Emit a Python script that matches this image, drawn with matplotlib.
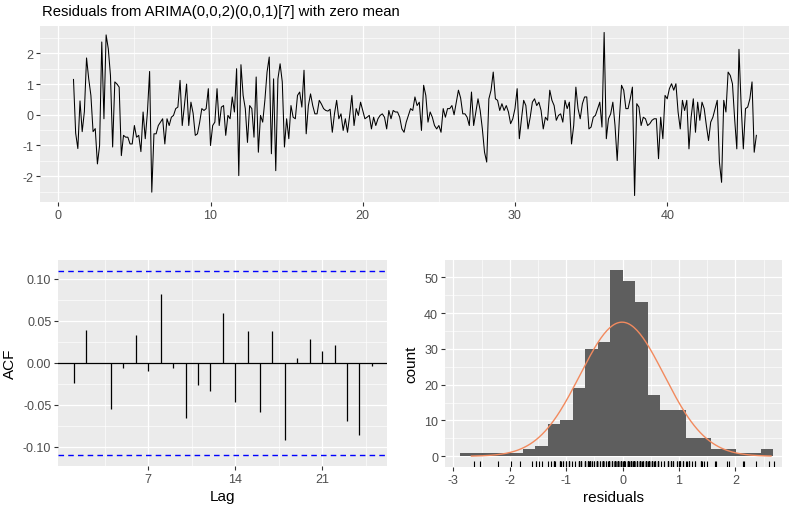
"""Residual diagnostics chart (time plot, ACF, histogram) in a ggplot-like style."""

import matplotlib

matplotlib.use("Agg")
import matplotlib.pyplot as plt
import numpy as np
from matplotlib.ticker import FixedLocator

plt.rcParams["font.family"] = ["Liberation Sans", "DejaVu Sans"]
plt.rcParams["axes.unicode_minus"] = False

# residual series, daily values with weekly seasonality
residuals = [
    1.15, -0.6, -1.1, 0.45, -0.55, 0.1, 1.85, 1.17, 0.63, -0.55,
    -0.45, -1.6, -1.0, 2.37, -0.13, 2.6, 2.15, 1.28, -1.05, 1.07,
    1.0, 0.9, -1.33, -0.67, -0.73, -0.73, -0.95, -0.95, -0.35, -0.73,
    -0.67, -1.2, 0.09, -0.78, 0.09, 1.41, -2.52, -0.62, -0.62, -0.35,
    -0.24, -0.13, -0.95, -0.13, -0.35, -0.08, -0.02, 0.2, 0.25, 1.12,
    -0.35, 0.3, 1.0, -0.35, 0.41, 0.05, -0.67, -0.62, -0.25, 0.2,
    0.14, 0.2, 0.85, -1.0, -0.35, -0.24, 0.85, -0.35, 0.25, 0.3,
    -0.67, -0.02, -0.13, 0.58, 0.09, 1.5, -1.98, 1.63, 0.63, 0.2,
    -0.9, 0.3, 0.2, -0.73, 1.23, -1.22, -0.02, -0.24, 0.47, 1.39,
    1.88, -1.27, 1.17, -1.82, 1.17, 1.66, 1.07, -1.05, -0.13, -0.78,
    0.3, -0.08, -0.13, 0.63, 0.74, 0.25, 1.45, -0.62, 0.3, 0.68,
    0.3, 0.03, 0.03, 0.47, 0.35, 0.2, 0.14, 0.12, 0.18, -0.57,
    0.03, 0.47, -0.13, 0.03, -0.51, -0.13, -0.57, -0.02, 0.63, -0.35,
    0.2, -0.02, 0.41, 0.14, -0.13, -0.08, -0.02, -0.46, -0.08, -0.35,
    -0.13, -0.02, 0.03, -0.08, -0.46, 0.14, -0.13, 0.14, 0.09, 0.09,
    -0.08, -0.46, -0.57, -0.24, -0.02, 0.2, 0.14, 0.58, 0.3, 0.41,
    -0.51, 0.96, 0.63, -0.24, 0.09, -0.08, -0.35, -0.46, -0.35, -0.57,
    0.2, -0.08, 0.2, 0.2, 0.3, 0.0, 0.41, 0.8, 0.55, 0.03,
    0.03, -0.08, -0.35, 0.74, -0.35, 0.09, 0.52, 0.14, -0.46, -1.22,
    -1.54, 0.52, 0.8, 1.39, 0.52, 0.47, 0.14, 0.36, 0.14, 0.3,
    0.09, -0.29, -0.13, 0.2, 0.85, -0.78, -0.13, 0.47, 0.3, -0.46,
    -0.08, 0.41, 0.52, 0.3, 0.41, 0.14, -0.46, -0.08, -0.18, 0.8,
    0.47, 0.3, -0.18, -0.02, 0.03, -0.24, 0.47, 0.2, 0.41, -0.95,
    -0.35, 0.9, 0.2, -0.13, 0.36, 0.58, 0.58, -0.46, -0.4, -0.08,
    -0.02, 0.2, 0.41, -0.4, 2.68, -0.78, -0.13, 0.03, 0.41, -0.35,
    -1.49, -0.13, 0.96, 0.8, 0.2, 0.2, 0.52, 0.9, -2.63, 0.36,
    0.25, -0.35, -0.08, -0.13, -0.35, -0.29, -0.18, -0.13, -0.13, -1.43,
    -0.08, -0.78, 0.63, 0.52, 0.85, 1.01, 0.8, 1.01, 0.09, -0.46,
    0.47, 0.14, 0.47, -1.11, -0.08, 0.52, -0.57, 0.41, -0.18, 0.41,
    0.2, -0.35, -0.84, -0.24, -0.08, 0.2, 0.47, -1.54, -2.2, 0.47,
    0.09, 1.39, 1.28, 1.01, -0.13, -1.11, 2.13, 0.3, -1.11, 0.2,
    0.25, 0.52, 1.07, -1.22, -0.67,
]
start_time = 1
frequency = 7

# autocorrelations of the residuals
acf_lags = list(range(1, 26))
acf_values = [
    -0.024, 0.039, 0.000, -0.055, -0.006, 0.033, -0.009, 0.082, -0.006, -0.066,
    -0.026, -0.033, 0.060, -0.047, 0.038, -0.058, 0.038, -0.092, 0.006, 0.028,
    0.014, 0.021, -0.069, -0.086, -0.004,
]
acf_bound = 0.110

# histogram of residuals
hist_left_edge = -2.881
hist_bin_width = 0.222
hist_counts = [1, 1, 1, 1, 1, 2, 3, 9, 10, 19, 30, 32, 52, 49, 43, 17, 13, 13, 5, 5, 2, 2, 1, 1, 2]
curve_mean = -0.01
curve_sd = 0.745
curve_from, curve_to = -2.68, 2.63

FIG_W, FIG_H = 790, 510
PANEL_BG = "#EBEBEB"


def px_axes(fig, left, top, right, bottom):
    return fig.add_axes([left / FIG_W, 1 - bottom / FIG_H, (right - left) / FIG_W, (bottom - top) / FIG_H])


def style_panel(ax, xmajor, xminor, ymajor, yminor):
    ax.set_facecolor(PANEL_BG)
    for spine in ax.spines.values():
        spine.set_visible(False)
    ax.xaxis.set_major_locator(FixedLocator(xmajor))
    ax.xaxis.set_minor_locator(FixedLocator(xminor))
    ax.yaxis.set_major_locator(FixedLocator(ymajor))
    ax.yaxis.set_minor_locator(FixedLocator(yminor))
    ax.grid(which="major", color="white", linewidth=0.9)
    ax.grid(which="minor", color="white", linewidth=0.45)
    ax.set_axisbelow(True)
    ax.tick_params(which="major", length=3, width=0.8, color="#333333", labelcolor="#4D4D4D", labelsize=9, pad=2)
    ax.tick_params(which="minor", length=0)


fig = plt.figure(figsize=(FIG_W / 100, FIG_H / 100), dpi=100)

# time plot
ax_ts = px_axes(fig, 40, 26.7, 789, 203.3)
times = start_time + np.arange(len(residuals)) / frequency
ax_ts.plot(times, residuals, color="black", linewidth=0.75)
ax_ts.set_xlim(-1.2, 48.0)
ax_ts.set_ylim(-2.85, 2.9)
style_panel(ax_ts, [0, 10, 20, 30, 40], [5, 15, 25, 35, 45], [-2, -1, 0, 1, 2], [-2.5, -1.5, -0.5, 0.5, 1.5, 2.5])
ax_ts.set_xticklabels(["0", "10", "20", "30", "40"])
ax_ts.set_yticklabels(["-2", "-1", "0", "1", "2"])
fig.text(42 / FIG_W, 1 - 12 / FIG_H, "Residuals from ARIMA(0,0,2)(0,0,1)[7] with zero mean",
         fontsize=10.7, color="black", va="center", ha="left")

# ACF
ax_acf = px_axes(fig, 58.3, 261, 386.7, 466.7)
ax_acf.axhline(0, color="black", linewidth=0.9, zorder=2)
ax_acf.vlines(acf_lags, 0, acf_values, color="black", linewidth=0.9, zorder=3)
ax_acf.axhline(acf_bound, color="#0000FF", linestyle=(0, (4, 3)), linewidth=1.0, zorder=3)
ax_acf.axhline(-acf_bound, color="#0000FF", linestyle=(0, (4, 3)), linewidth=1.0, zorder=3)
ax_acf.set_xlim(-0.25, 26.2)
ax_acf.set_ylim(-0.1223, 0.1226)
style_panel(ax_acf, [7, 14, 21], [3.5, 10.5, 17.5, 24.5],
            [-0.10, -0.05, 0.0, 0.05, 0.10], [-0.075, -0.025, 0.025, 0.075])
ax_acf.set_xticklabels(["7", "14", "21"])
ax_acf.set_yticklabels(["-0.10", "-0.05", "0.00", "0.05", "0.10"])
ax_acf.set_xlabel("Lag", fontsize=11, labelpad=3)
ax_acf.set_ylabel("ACF", fontsize=11, labelpad=4)

# histogram
ax_hist = px_axes(fig, 445, 261, 781.7, 468.3)
edges = hist_left_edge + hist_bin_width * np.arange(len(hist_counts))
ax_hist.bar(edges, hist_counts, width=hist_bin_width, align="edge", color="#5E5E5E", linewidth=0, zorder=2)
curve_x = np.linspace(curve_from, curve_to, 200)
n_obs = sum(hist_counts)
curve_y = n_obs * hist_bin_width * np.exp(-0.5 * ((curve_x - curve_mean) / curve_sd) ** 2) / (curve_sd * np.sqrt(2 * np.pi))
ax_hist.plot(curve_x, curve_y, color="#F28A5E", linewidth=1.0, zorder=3)
ax_hist.vlines(residuals, 0, 0.03, transform=ax_hist.get_xaxis_transform(), color="black", linewidth=0.8, zorder=3)
ax_hist.set_xlim(-3.148, 2.82)
ax_hist.set_ylim(-3.07, 54.8)
style_panel(ax_hist, [-3, -2, -1, 0, 1, 2], [-2.5, -1.5, -0.5, 0.5, 1.5, 2.5],
            [0, 10, 20, 30, 40, 50], [5, 15, 25, 35, 45])
ax_hist.set_xticklabels(["-3", "-2", "-1", "0", "1", "2"])
ax_hist.set_yticklabels(["0", "10", "20", "30", "40", "50"])
ax_hist.set_xlabel("residuals", fontsize=11, labelpad=3)
ax_hist.set_ylabel("count", fontsize=11, labelpad=4)

fig.savefig("out.png", dpi=100, facecolor="white")
